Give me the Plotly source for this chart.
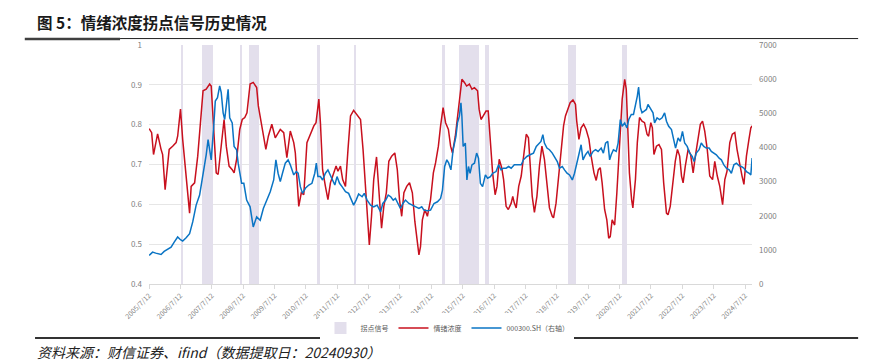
import plotly.graph_objects as go
from datetime import datetime, timedelta

# ---------------- data ----------------
red_t = [2005.53, 2005.61, 2005.67, 2005.80, 2005.91, 2005.96, 2006.04, 2006.17, 2006.28, 2006.39,
         2006.44, 2006.53, 2006.60, 2006.71, 2006.82, 2006.87, 2006.98, 2007.08, 2007.17, 2007.25,
         2007.35, 2007.46, 2007.51, 2007.59, 2007.67, 2007.73, 2007.81, 2007.92, 2007.99, 2008.08,
         2008.18, 2008.24, 2008.32, 2008.42, 2008.50, 2008.58, 2008.65, 2008.75, 2008.85, 2008.96,
         2009.01, 2009.12, 2009.25, 2009.33, 2009.44, 2009.55, 2009.71, 2009.82, 2009.92, 2010.03,
         2010.14, 2010.19, 2010.24, 2010.30, 2010.38, 2010.46, 2010.56, 2010.67, 2010.78, 2010.85,
         2010.94, 2010.99, 2011.06, 2011.15, 2011.23, 2011.31, 2011.41, 2011.49, 2011.55, 2011.63,
         2011.70, 2011.79, 2011.87, 2011.95, 2012.05, 2012.14, 2012.21, 2012.27, 2012.35, 2012.43,
         2012.51, 2012.55, 2012.62, 2012.69, 2012.78, 2012.85, 2012.94, 2013.01, 2013.09, 2013.17,
         2013.26, 2013.36, 2013.44, 2013.51, 2013.58, 2013.65, 2013.74, 2013.83, 2013.92, 2014.00,
         2014.08, 2014.13, 2014.18, 2014.24, 2014.32, 2014.40, 2014.50, 2014.59, 2014.66, 2014.75,
         2014.82, 2014.90, 2014.98, 2015.07, 2015.14, 2015.20, 2015.29, 2015.36, 2015.44, 2015.50,
         2015.58, 2015.65, 2015.74, 2015.82, 2015.90, 2016.00, 2016.05, 2016.11, 2016.18, 2016.27,
         2016.34, 2016.41, 2016.48, 2016.56, 2016.62, 2016.69, 2016.77, 2016.83, 2016.91, 2016.98,
         2017.07, 2017.12, 2017.17, 2017.23, 2017.31, 2017.39, 2017.46, 2017.55, 2017.62, 2017.68,
         2017.74, 2017.81, 2017.89, 2017.97, 2018.05, 2018.13, 2018.21, 2018.29, 2018.38, 2018.42,
         2018.50, 2018.59, 2018.66, 2018.74, 2018.80, 2018.88, 2018.95, 2019.04, 2019.12, 2019.16,
         2019.23, 2019.30, 2019.38, 2019.46, 2019.55, 2019.62, 2019.71, 2019.78, 2019.85, 2019.91,
         2019.97, 2020.05, 2020.12, 2020.18, 2020.23, 2020.29, 2020.37, 2020.44, 2020.53, 2020.61,
         2020.69, 2020.74, 2020.79, 2020.84, 2020.91, 2020.95, 2021.03, 2021.09, 2021.16, 2021.24,
         2021.32, 2021.40, 2021.45, 2021.52, 2021.57, 2021.62, 2021.70, 2021.78, 2021.86, 2021.93,
         2022.02, 2022.07, 2022.14, 2022.23, 2022.30, 2022.37, 2022.44, 2022.50, 2022.55, 2022.62,
         2022.71, 2022.79, 2022.87, 2022.94, 2023.03, 2023.10, 2023.17, 2023.24, 2023.32, 2023.40,
         2023.49, 2023.56, 2023.64, 2023.72, 2023.81, 2023.88, 2023.95, 2024.04, 2024.12, 2024.20,
         2024.27, 2024.36, 2024.43, 2024.49, 2024.57, 2024.65, 2024.71, 2024.75]
red_v = [0.790, 0.780, 0.725, 0.777, 0.738, 0.725, 0.637, 0.738, 0.746, 0.755,
         0.771, 0.839, 0.763, 0.662, 0.578, 0.645, 0.654, 0.721, 0.805, 0.885,
         0.889, 0.902, 0.897, 0.797, 0.679, 0.675, 0.738, 0.813, 0.746, 0.696,
         0.687, 0.679, 0.713, 0.788, 0.813, 0.818, 0.830, 0.902, 0.906, 0.893,
         0.847, 0.797, 0.738, 0.771, 0.801, 0.767, 0.788, 0.780, 0.717, 0.784,
         0.755, 0.729, 0.662, 0.595, 0.629, 0.624, 0.755, 0.776, 0.797, 0.805,
         0.864, 0.805, 0.687, 0.645, 0.612, 0.654, 0.679, 0.696, 0.683, 0.696,
         0.662, 0.645, 0.738, 0.822, 0.836, 0.826, 0.818, 0.813, 0.738, 0.637,
         0.553, 0.498, 0.570, 0.662, 0.719, 0.645, 0.540, 0.595, 0.629, 0.708,
         0.721, 0.729, 0.687, 0.612, 0.570, 0.629, 0.645, 0.654, 0.629, 0.557,
         0.494, 0.473, 0.494, 0.561, 0.587, 0.570, 0.612, 0.679, 0.704, 0.746,
         0.797, 0.843, 0.805, 0.788, 0.746, 0.729, 0.771, 0.822, 0.872, 0.914,
         0.906, 0.897, 0.902, 0.889, 0.893, 0.885, 0.839, 0.813, 0.822, 0.834,
         0.834, 0.763, 0.679, 0.624, 0.645, 0.713, 0.692, 0.662, 0.595, 0.587,
         0.603, 0.620, 0.603, 0.591, 0.645, 0.671, 0.721, 0.776, 0.767, 0.679,
         0.620, 0.580, 0.620, 0.696, 0.746, 0.713, 0.654, 0.591, 0.570, 0.566,
         0.603, 0.679, 0.738, 0.797, 0.822, 0.839, 0.855, 0.862, 0.851, 0.809,
         0.763, 0.792, 0.801, 0.788, 0.763, 0.721, 0.679, 0.660, 0.687, 0.692,
         0.654, 0.587, 0.561, 0.515, 0.519, 0.561, 0.548, 0.629, 0.763, 0.864,
         0.914, 0.889, 0.788, 0.679, 0.612, 0.591, 0.662, 0.755, 0.818, 0.809,
         0.805, 0.776, 0.771, 0.805, 0.792, 0.725, 0.746, 0.750, 0.738, 0.654,
         0.578, 0.574, 0.595, 0.654, 0.708, 0.738, 0.721, 0.671, 0.654, 0.696,
         0.738, 0.725, 0.679, 0.721, 0.771, 0.801, 0.809, 0.784, 0.738, 0.671,
         0.662, 0.708, 0.671, 0.645, 0.599, 0.662, 0.683, 0.755, 0.776, 0.780,
         0.738, 0.696, 0.671, 0.650, 0.721, 0.763, 0.792, 0.797]

hs300_t = [2005.53, 2005.64, 2005.74, 2005.91, 2006.01, 2006.12, 2006.23, 2006.33, 2006.44, 2006.53,
           2006.60, 2006.71, 2006.82, 2006.92, 2007.03, 2007.14, 2007.24, 2007.35, 2007.41, 2007.46,
           2007.51, 2007.59, 2007.64, 2007.71, 2007.78, 2007.83, 2007.89, 2007.94, 2007.99, 2008.05,
           2008.10, 2008.18, 2008.24, 2008.32, 2008.37, 2008.48, 2008.55, 2008.64, 2008.75, 2008.85,
           2008.96, 2009.07, 2009.17, 2009.28, 2009.39, 2009.50, 2009.57, 2009.64, 2009.71, 2009.78,
           2009.87, 2009.96, 2010.03, 2010.14, 2010.22, 2010.28, 2010.35, 2010.42, 2010.51, 2010.62,
           2010.72, 2010.81, 2010.86, 2010.91, 2010.99, 2011.06, 2011.15, 2011.23, 2011.31, 2011.38,
           2011.45, 2011.52, 2011.60, 2011.68, 2011.79, 2011.89, 2011.98, 2012.05, 2012.13, 2012.21,
           2012.32, 2012.39, 2012.48, 2012.59, 2012.69, 2012.80, 2012.91, 2012.98, 2013.07, 2013.15,
           2013.23, 2013.31, 2013.38, 2013.46, 2013.54, 2013.62, 2013.70, 2013.81, 2013.92, 2014.02,
           2014.13, 2014.22, 2014.29, 2014.40, 2014.50, 2014.61, 2014.72, 2014.82, 2014.88, 2014.95,
           2015.02, 2015.08, 2015.15, 2015.22, 2015.31, 2015.36, 2015.42, 2015.47, 2015.50, 2015.54,
           2015.61, 2015.66, 2015.71, 2015.76, 2015.82, 2015.90, 2015.97, 2016.03, 2016.09, 2016.16,
           2016.25, 2016.32, 2016.41, 2016.48, 2016.59, 2016.67, 2016.75, 2016.82, 2016.91, 2016.99,
           2017.07, 2017.17, 2017.28, 2017.39, 2017.46, 2017.57, 2017.67, 2017.78, 2017.87, 2017.95,
           2018.02, 2018.08, 2018.13, 2018.21, 2018.29, 2018.38, 2018.45, 2018.54, 2018.61, 2018.70,
           2018.77, 2018.85, 2018.93, 2019.02, 2019.09, 2019.16, 2019.25, 2019.30, 2019.36, 2019.44,
           2019.52, 2019.59, 2019.68, 2019.76, 2019.84, 2019.94, 2020.01, 2020.08, 2020.15, 2020.21,
           2020.26, 2020.33, 2020.42, 2020.48, 2020.55, 2020.61, 2020.69, 2020.76, 2020.82, 2020.90,
           2020.97, 2021.04, 2021.09, 2021.13, 2021.19, 2021.24, 2021.30, 2021.38, 2021.43, 2021.51,
           2021.59, 2021.64, 2021.72, 2021.80, 2021.88, 2021.96, 2022.02, 2022.09, 2022.18, 2022.25,
           2022.31, 2022.39, 2022.46, 2022.53, 2022.60, 2022.68, 2022.76, 2022.84, 2022.90, 2022.97,
           2023.06, 2023.13, 2023.21, 2023.29, 2023.38, 2023.45, 2023.53, 2023.61, 2023.70, 2023.77,
           2023.85, 2023.93, 2024.02, 2024.09, 2024.17, 2024.25, 2024.34, 2024.41, 2024.49, 2024.57,
           2024.66, 2024.71, 2024.75]
hs300_v = [836, 934, 904, 865, 953, 1022, 1081, 1229, 1376, 1297,
           1258, 1356, 1474, 1818, 2310, 2605, 3146, 3785, 4227, 3932,
           3637, 4620, 5357, 5456, 5800, 5603, 5013, 4817, 5210, 5701,
           4866, 4718, 4030, 3932, 3539, 2949, 2949, 2458, 2261, 1671,
           1966, 1868, 2212, 2458, 2703, 3047, 3637, 3244, 2998, 3244,
           3539, 3637, 3490, 3195, 3293, 3244, 2851, 2654, 2802, 2900,
           2949, 3244, 3539, 3146, 3146, 3047, 3244, 3342, 3195, 3047,
           2900, 3146, 2949, 2851, 2703, 2654, 2458, 2310, 2458, 2635,
           2556, 2654, 2458, 2310, 2261, 2310, 2114, 2359, 2458, 2605,
           2556, 2458, 2507, 2359, 2212, 2359, 2458, 2359, 2310, 2261,
           2212, 2261, 2163, 2143, 2163, 2359, 2408, 2507, 2752, 3441,
           3637, 3539, 3342, 3932, 4325, 4718, 4915, 5308, 4915, 4030,
           4128, 3047, 3441, 3244, 3490, 3539, 3834, 3687, 2949, 2851,
           3195, 3097, 3146, 3244, 3293, 3490, 3342, 3391, 3391, 3441,
           3391, 3490, 3490, 3490, 3637, 3735, 3785, 3834, 4030, 4128,
           4177, 4374, 4128, 3981, 3932, 3834, 3735, 3588, 3391, 3441,
           3342, 3244, 3195, 3047, 3244, 3539, 3932, 4079, 3637, 3785,
           3883, 3735, 3883, 3932, 3883, 3981, 3834, 4128, 4177, 3637,
           3785, 3932, 3883, 4128, 4817, 4620, 4718, 4571, 4817, 4964,
           4964, 5259, 5505, 5770, 5161, 5013, 5063, 5112, 5259, 5112,
           5013, 4718, 4866, 4817, 4866, 5013, 4767, 4620, 4522, 4227,
           3981, 4276, 4177, 4472, 4128, 4030, 3834, 3735, 3588, 3834,
           3932, 4128, 4030, 3981, 3981, 3883, 3834, 3785, 3687, 3637,
           3490, 3391, 3342, 3244, 3490, 3539, 3460, 3441, 3391, 3293,
           3244, 3195, 3687]

# turning-point signal periods (start, end) in decimal years
signal_start = [2006.565, 2007.21, 2008.455, 2008.70, 2010.89, 2012.06, 2014.88, 2015.41, 2016.23, 2018.89, 2020.60]
signal_end   = [2006.585, 2007.56, 2008.475, 2009.04, 2010.97, 2012.14, 2014.95, 2016.05, 2016.35, 2019.14, 2020.76]

tick_dates  = ["%d-07-12" % y for y in range(2005, 2025)]
tick_labels = ["%d/7/12" % y for y in range(2005, 2025)]
x_start, x_end = "2005-07-12", "2024-09-30"

# ---------------- helpers ----------------
def yr2date(y):
    yr = int(y)
    return datetime(yr, 1, 1) + timedelta(days=(y - yr) * 365.25)

red_x = [yr2date(t) for t in red_t]
hs_x = [yr2date(t) for t in hs300_t]
sig_mid = [yr2date((a + b) / 2) for a, b in zip(signal_start, signal_end)]
sig_w = [(b - a) * 365.25 * 86400000 for a, b in zip(signal_start, signal_end)]

FONT = "Noto Sans CJK SC"
GRAY = "#7f7f7f"

fig = go.Figure()
fig.add_trace(go.Bar(
    x=sig_mid, y=[0.6] * len(sig_mid), base=0.4, width=sig_w,
    name="拐点信号", marker=dict(color="#e3dfec", line=dict(width=0)),
    yaxis="y", hoverinfo="skip"))
fig.add_trace(go.Scatter(
    x=red_x, y=red_v, name="情绪浓度", mode="lines",
    line=dict(color="#c8101e", width=1.5), yaxis="y"))
fig.add_trace(go.Scatter(
    x=hs_x, y=hs300_v, name="000300.SH（右轴）", mode="lines",
    line=dict(color="#0a74c4", width=1.5), yaxis="y2"))

fig.update_layout(
    width=871, height=363,
    margin=dict(l=149, r=119, t=45, b=79, autoexpand=False),
    paper_bgcolor="white", plot_bgcolor="white",
    font=dict(family=FONT, size=8, color=GRAY),
    bargap=0,
    showlegend=True,
    legend=dict(orientation="h", x=0.495, xanchor="center", y=-0.184, yanchor="middle",
                font=dict(size=7, color="#595959"), itemwidth=30, tracegroupgap=0),
    xaxis=dict(type="date", range=[x_start, x_end],
               tickmode="array", tickvals=tick_dates, ticktext=tick_labels,
               tickangle=-45, tickfont=dict(size=7, color=GRAY), automargin=False,
               showgrid=False, showline=True, linecolor="#d9d9d9", linewidth=1,
               ticks="outside", ticklen=4, tickcolor="#d9d9d9", zeroline=False),
    yaxis=dict(range=[0.4, 1.0], dtick=0.1, tick0=0.4, showgrid=True, gridcolor="#e6e6e6",
               gridwidth=1, zeroline=False, showline=False, ticks="", automargin=False,
               tickfont=dict(size=8, color=GRAY), ticklabelstandoff=6),
    yaxis2=dict(range=[0, 7000], dtick=1000, overlaying="y", side="right", automargin=False,
                showgrid=False, zeroline=False, showline=False, ticks="",
                tickfont=dict(size=8, color=GRAY), ticklabelstandoff=6),
)

# title, rules and source note
fig.add_annotation(text="<b>图 5：情绪浓度拐点信号历史情况</b>", xref="paper", yref="paper",
                   x=-0.189, y=1.096, xanchor="left", yanchor="middle", showarrow=False,
                   font=dict(family=FONT, size=15.5, color="#1a1a1a"))
fig.add_shape(type="line", xref="paper", yref="paper", x0=-0.206, x1=-0.048, y0=1.025, y1=1.025,
              line=dict(color="#404040", width=2.5))
fig.add_shape(type="line", xref="paper", yref="paper", x0=-0.048, x1=1.176, y0=1.027, y1=1.027,
              line=dict(color="#222222", width=1))
fig.add_shape(type="line", xref="paper", yref="paper", x0=-0.189, x1=1.176, y0=-0.226, y1=-0.226,
              line=dict(color="#333333", width=2))
fig.add_annotation(text="<i>资料来源：财信证券、ifind（数据提取日：20240930）</i>", xref="paper", yref="paper",
                   x=-0.189, y=-0.285, xanchor="left", yanchor="middle", showarrow=False,
                   font=dict(family=FONT, size=14, color="#222222"))

fig.write_html("out.html", config={"displayModeBar": False},
               post_script="document.body.style.margin='0';")
